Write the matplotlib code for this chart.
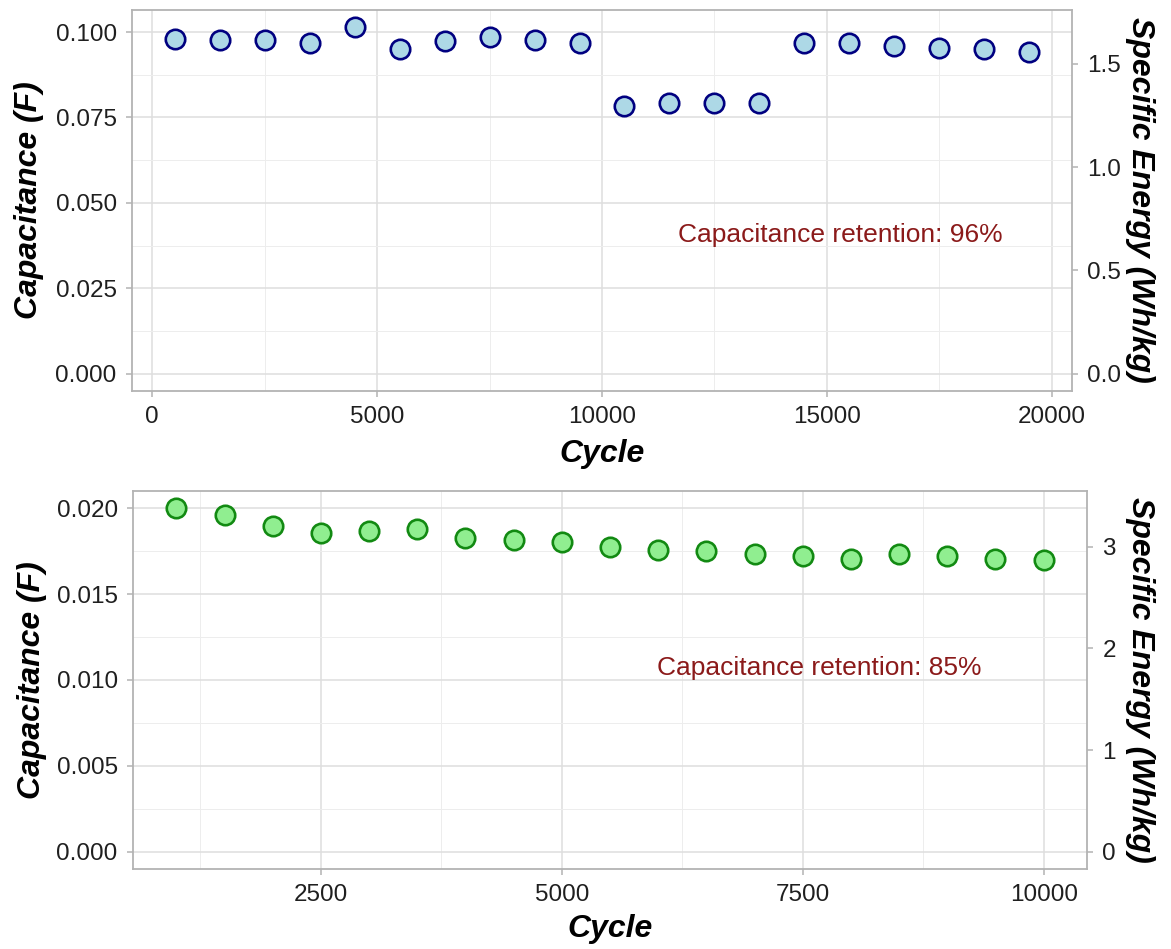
import matplotlib
matplotlib.use("Agg")
import matplotlib.pyplot as plt
from matplotlib.ticker import MultipleLocator, FormatStrFormatter

# ---- data ----
cycles_a = [500, 1500, 2500, 3500, 4500, 5500, 6500, 7500, 8500, 9500,
            10500, 11500, 12500, 13500, 14500, 15500, 16500, 17500, 18500, 19500]
cap_a = [0.0981, 0.0977, 0.0977, 0.0968, 0.1016, 0.0949, 0.0973, 0.0985, 0.0977, 0.0968,
         0.0783, 0.0792, 0.0792, 0.0792, 0.0968, 0.0968, 0.0958, 0.0953, 0.0949, 0.0941]

cycles_b = [1000, 1500, 2000, 2500, 3000, 3500, 4000, 4500, 5000, 5500,
            6000, 6500, 7000, 7500, 8000, 8500, 9000, 9500, 10000]
cap_b = [0.02000, 0.01960, 0.01894, 0.01854, 0.01865, 0.01879, 0.01827, 0.01815, 0.01802, 0.01773,
         0.01759, 0.01748, 0.01734, 0.01721, 0.01707, 0.01734, 0.01721, 0.01707, 0.01696]

energy_factor_a = 16.54   # Wh/kg per F
energy_factor_b = 169.0

label_a = "Capacitance retention: 96%"
label_b = "Capacitance retention: 85%"
xlabel = "Cycle"
ylabel = "Capacitance (F)"
y2label = "Specific Energy (Wh/kg)"

plt.rcParams['font.family'] = ['Liberation Sans', 'DejaVu Sans']

W, H = 1171, 949
fig = plt.figure(figsize=(W / 100, H / 100), dpi=100)

BORDER = '#B3B3B3'
GRID_MAJ = '#DEDEDE'
GRID_MIN = '#EDEDED'
TXT = '#1F1F1F'


def box(l, t, r, b):
    return [l / W, 1 - b / H, (r - l) / W, (b - t) / H]


def style(ax, sec):
    for s in ax.spines.values():
        s.set_color(BORDER)
        s.set_linewidth(1.3)
    ax.set_axisbelow(True)
    ax.grid(which='major', color=GRID_MAJ, linewidth=1.1)
    ax.grid(which='minor', color=GRID_MIN, linewidth=0.7)
    ax.tick_params(which='major', color=BORDER, length=4, width=1.1, pad=7,
                   labelsize=17.5, labelcolor=TXT)
    ax.tick_params(which='minor', length=0)
    for s in sec.spines.values():
        s.set_visible(False)
    sec.tick_params(axis='y', which='major', color=BORDER, length=4, width=1.1, pad=7,
                    labelsize=17.5, labelcolor=TXT)
    sec.tick_params(which='minor', length=0)


def panel(rect, x, y, k, xlim, ylim, xmaj, ymaj, y2maj, y2fmt, fc, ec, ann_xy, ann_text,
          ylab_x, y2lab_x, xlab_y):
    ax = fig.add_axes(rect)
    ax.plot(x, y, linestyle='none', marker='o', markersize=14,
            markerfacecolor=fc, markeredgecolor=ec, markeredgewidth=1.9, zorder=3)
    ax.set_xlim(*xlim)
    ax.set_ylim(*ylim)
    ax.xaxis.set_major_locator(MultipleLocator(xmaj))
    ax.xaxis.set_minor_locator(MultipleLocator(xmaj / 2))
    ax.yaxis.set_major_locator(MultipleLocator(ymaj))
    ax.yaxis.set_minor_locator(MultipleLocator(ymaj / 2))
    ax.yaxis.set_major_formatter(FormatStrFormatter('%.3f'))
    ax.xaxis.set_major_formatter(FormatStrFormatter('%d'))
    sec = ax.twinx()
    sec.set_ylim(ylim[0] * k, ylim[1] * k)
    sec.yaxis.set_major_locator(MultipleLocator(y2maj))
    sec.yaxis.set_major_formatter(FormatStrFormatter(y2fmt))
    sec.grid(False)
    style(ax, sec)
    ax.text(ann_xy[0], ann_xy[1], ann_text, color='#8B1A1A', fontsize=19,
            ha='center', va='center', zorder=4)
    ax.set_xlabel(xlabel, fontsize=23, fontweight='bold', fontstyle='italic',
                  color='black', va='center')
    ax.set_ylabel(ylabel, fontsize=23, fontweight='bold', fontstyle='italic',
                  color='black', ha='center', va='center')
    sec.set_ylabel(y2label, fontsize=23, fontweight='bold', fontstyle='italic',
                   color='black', rotation=-90, ha='center', va='center')
    ax.yaxis.set_label_coords(ylab_x, 0.5)
    ax.xaxis.set_label_coords(0.5, xlab_y)
    sec.yaxis.set_label_coords(y2lab_x, 0.5)
    return ax


panel(box(132, 9.5, 1072, 391), cycles_a, cap_a, energy_factor_a,
      (-450, 20450), (-0.0051, 0.1066), 5000, 0.025, 0.5, '%.1f',
      '#ADD8E6', '#000080', (15300, 0.0405), label_a,
      -0.11, 1.072, -0.165)

panel(box(133, 491, 1087, 869), cycles_b, cap_b, energy_factor_b,
      (550, 10450), (-0.001, 0.021), 2500, 0.005, 1, '%d',
      '#90EE90', '#128A12', (7676, 0.01071), label_b,
      -0.106, 1.056, -0.16)

fig.savefig('out.png', dpi=100, facecolor='white')
